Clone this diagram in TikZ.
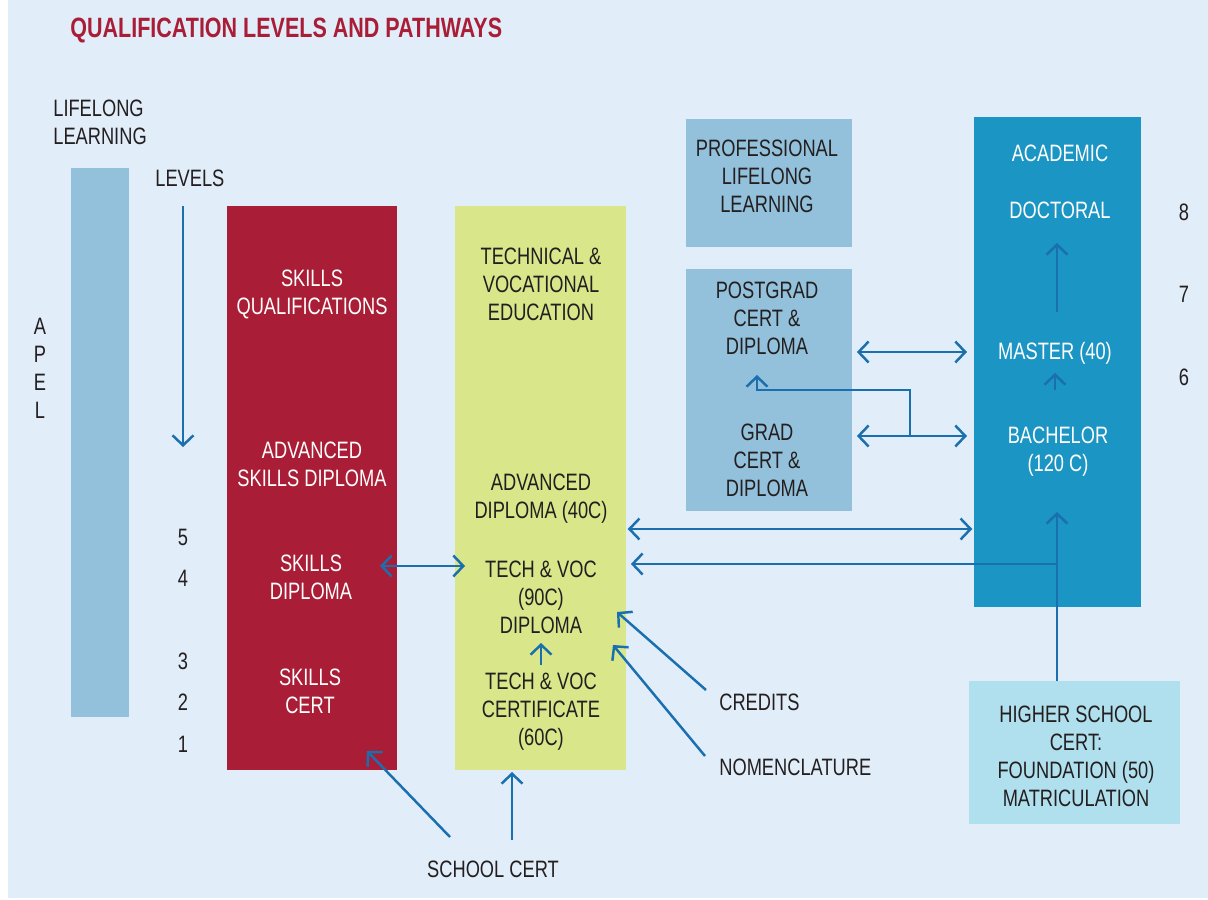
\documentclass[tikz,border=0pt]{standalone}
\usepackage{fontspec}
\setmainfont[FakeStretch=0.77]{Liberation Sans}
\usetikzlibrary{arrows.meta}

\definecolor{paper}{HTML}{E1EDF9}
\definecolor{crimson}{HTML}{A91E36}
\definecolor{lime}{HTML}{D9E68A}
\definecolor{steel}{HTML}{93C1DB}
\definecolor{ocean}{HTML}{1B95C3}
\definecolor{pale}{HTML}{B0E0EE}
\definecolor{pathblue}{HTML}{1A6FAE}
\definecolor{ink}{HTML}{231F20}

\begin{document}
\begin{tikzpicture}[
  x=0.02cm, y=-0.02cm,
  block/.style={inner sep=0, outer sep=0, draw=none},
  txt/.style={font=\fontsize{13.5}{15.9}\selectfont, text=ink, align=center, inner sep=0},
  wtxt/.style={txt, text=white},
  heading/.style={font=\fontsize{15.9}{19}\selectfont\bfseries, text=crimson, inner sep=0},
  link/.style={draw=pathblue, line width=1.4pt, -{Straight Barb[length=2mm,width=4.2mm]}},
  twolink/.style={link, {Straight Barb[length=2mm,width=4.2mm]}-{Straight Barb[length=2mm,width=4.2mm]}},
  ]
  \useasboundingbox (0,0) rectangle (1208,900);
  \fill[paper] (8,0) rectangle (1208,898);

  % Blocks
  \node[block, fill=steel,   minimum width=1.16cm, minimum height=10.98cm] (apel)  at (100,442.5) {};
  \node[block, fill=crimson, minimum width=3.4cm,  minimum height=11.28cm] (skill) at (312,488) {};
  \node[block, fill=lime,    minimum width=3.42cm, minimum height=11.28cm] (tve)   at (540.5,488) {};
  \node[block, fill=steel,   minimum width=3.32cm, minimum height=2.56cm]  (prof)  at (769,183) {};
  \node[block, fill=steel,   minimum width=3.32cm, minimum height=4.84cm]  (pg)    at (769,390) {};
  \node[block, fill=ocean,   minimum width=3.34cm, minimum height=9.8cm]   (acad)  at (1057.5,362) {};
  \node[block, fill=pale,    minimum width=4.22cm, minimum height=2.86cm]  (hsc)   at (1074.5,752.5) {};

  % Title and side labels
  \node[heading, anchor=west] (title) at (70,30) {QUALIFICATION LEVELS AND PATHWAYS};
  \node[txt, anchor=west, align=left] (lifelong) at (53,122) {LIFELONG\\LEARNING};
  \node[txt, anchor=west] (levels) at (155,178) {LEVELS};
  \node[txt] (apeltxt) at (40,368.5) {A\\P\\E\\L};

  % Level numbers
  \node[txt] (l5) at (183,537) {5};
  \node[txt] (l4) at (183,578) {4};
  \node[txt] (l3) at (183,661) {3};
  \node[txt] (l2) at (183,702) {2};
  \node[txt] (l1) at (183,744) {1};
  \node[txt] (l8) at (1184,212) {8};
  \node[txt] (l7) at (1184,294) {7};
  \node[txt] (l6) at (1184,377) {6};

  % Skills column
  \node[wtxt] (sq)    at (312,294) {SKILLS\\QUALIFICATIONS};
  \node[wtxt] (asd)   at (312,464) {ADVANCED\\SKILLS DIPLOMA};
  \node[wtxt] (sdip)  at (311,577) {SKILLS\\DIPLOMA};
  \node[wtxt] (scert) at (310,691) {SKILLS\\CERT};

  % Technical and vocational column
  \node[txt] (tvtitle) at (541,284) {TECHNICAL \&\\VOCATIONAL\\EDUCATION};
  \node[txt] (adip)    at (541,499) {ADVANCED\\DIPLOMA (40C)};
  \node[txt] (tvdip)   at (541,597) {TECH \& VOC\\(90C)\\DIPLOMA};
  \node[txt] (tvcert)  at (541,712) {TECH \& VOC\\CERTIFICATE\\(60C)};

  % Professional column
  \node[txt] (proftxt) at (767,176) {PROFESSIONAL\\LIFELONG\\LEARNING};
  \node[txt] (pgtxt)   at (767,318) {POSTGRAD\\CERT \&\\DIPLOMA};
  \node[txt] (gtxt)    at (767,460) {GRAD\\CERT \&\\DIPLOMA};

  % Academic column
  \node[wtxt] (acadtxt) at (1060,153) {ACADEMIC};
  \node[wtxt] (doc)     at (1060,210) {DOCTORAL};
  \node[wtxt] (master)  at (1055,353) {MASTER (40)};
  \node[wtxt] (bach)    at (1058,452) {BACHELOR\\(120 C)};
  \node[txt]  (hsctxt)  at (1076,756) {HIGHER SCHOOL\\CERT:\\FOUNDATION (50)\\MATRICULATION};

  % Entry labels
  \node[txt, anchor=west] (credits) at (719,702) {CREDITS};
  \node[txt, anchor=west] (nomen)   at (719,767) {NOMENCLATURE};
  \node[txt] (school) at (493,869) {SCHOOL CERT};

  % Free ends of the pathways
  \coordinate (lvtop) at (183,206);
  \coordinate (lvbot) at (183,447);
  \coordinate (sdend) at (380,566);
  \coordinate (tvend) at (465,566);
  \coordinate (tcup) at (541,665);
  \coordinate (tchead) at (541,643);
  \coordinate (crtail) at (706,690);
  \coordinate (crhead) at (617,612);
  \coordinate (nmtail) at (705,756);
  \coordinate (nmhead) at (613,645);
  \coordinate (sctail) at (450,837);
  \coordinate (schead) at (367,751);
  \coordinate (sgtail) at (512,840);
  \coordinate (split) at (910,435);
  \coordinate (junct) at (1057,564);
  \coordinate (mstail) at (1055,390);
  \coordinate (dctail) at (1057,312);

  % Pathways
  \draw[link] (lvtop) -- (lvbot);
  \draw[twolink] (sdend) -- (tvend);
  \draw[link] (tcup) -- (tchead);
  \draw[link] (crtail) -- (crhead);
  \draw[link] (nmtail) -- (nmhead);
  \draw[link] (sctail) -- (schead);
  \draw[link] (sgtail) -- (sgtail |- 0,772);
  \draw[twolink, shorten <=1pt, shorten >=1pt] (tve.east |- 0,529) -- (acad.west |- 0,529);
  \draw[twolink, shorten <=2.8pt, shorten >=4pt] (pg.east |- 0,352) -- (acad.west |- 0,352);
  \draw[twolink, shorten <=2.8pt, shorten >=4pt] (pg.east |- 0,436) -- (acad.west |- 0,436);
  \draw[link] (split |- 0,436) -- (910,390) -| (757,375);
  \draw[link] (hsc.north -| junct) -- (junct |- 0,512);
  \draw[link, shorten >=2.8pt] (junct) -- (tve.east |- junct);
  \draw[link] (mstail) -- (mstail |- 0,373);
  \draw[link] (dctail) -- (dctail |- 0,243);
\end{tikzpicture}
\end{document}
